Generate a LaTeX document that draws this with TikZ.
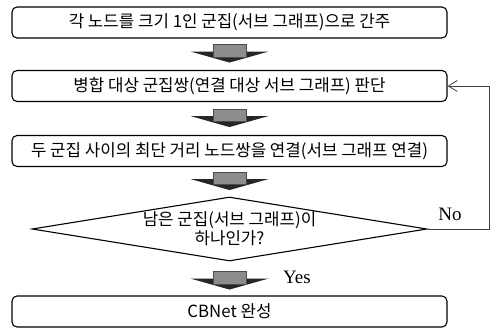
\documentclass[tikz,border=0pt]{standalone}
\usepackage{fontspec}
\newfontfamily\kr{Noto Sans CJK KR}
\newfontfamily\tms{Liberation Serif}
\usetikzlibrary{shapes.geometric,arrows.meta,calc}
\tikzset{
  box/.style={draw=black, line width=1.1pt, rounded corners=5pt,
    minimum width=435pt, minimum height=31pt, inner sep=0pt,
    font=\kr\fontsize{16.8}{19}\selectfont},
  decision/.style={draw=black, line width=1.1pt, shape=diamond,
    minimum width=395pt, minimum height=64pt, inner sep=0pt},
  dtext/.style={align=center, inner sep=0pt, font=\kr\fontsize{16.8}{19}\selectfont},
  lbl/.style={inner sep=0pt, font=\tms\fontsize{19}{21}\selectfont},
  feedback/.style={draw=black!75, line width=0.7pt, -{Straight Barb[length=9pt,width=11pt,line width=0.8pt]}},
  pics/blockarrow/.style={code={
    \fill[black!85] (-39,7) -- (39,7) -- (0,18) -- cycle;
    \filldraw[draw=black!70, line width=0.6pt, fill=black!45] (-16.5,0) rectangle (16.5,12.5);
  }}
}
\begin{document}
\begin{tikzpicture}[x=1pt,y=-1pt]
\useasboundingbox (0,0) rectangle (491,330);
\node[box] (b1) at (229.5,22.5) {각 노드를 크기 1인 군집(서브 그래프)으로 간주};
\node[box] (b2) at (229.5,86) {병합 대상 군집쌍(연결 대상 서브 그래프) 판단};
\node[box] (b3) at (229.5,151) {두 군집 사이의 최단 거리 노드쌍을 연결(서브 그래프 연결)};
\node[decision] (d) at (229.5,229) {};
\node[dtext] (dt) at (d.center) {남은 군집(서브 그래프)이\\하나인가?};
\node[box] (b4) at (229.5,311.5) {CBNet 완성};
\pic at ($(b1.south)+(0,6)$) {blockarrow};
\pic at ($(b2.south)+(0,7)$) {blockarrow};
\pic at ($(b3.south)+(0,5)$) {blockarrow};
\pic at ($(d.south)+(0,10)$) {blockarrow};
\node[lbl] (yes) at (297,277) {Yes};
\node[lbl] (no) at (450,214) {No};
\coordinate (fbx) at (489.5,0);
\draw[feedback] (d.east) -- (d.east -| fbx) |- (b2.east);
\end{tikzpicture}
\end{document}
